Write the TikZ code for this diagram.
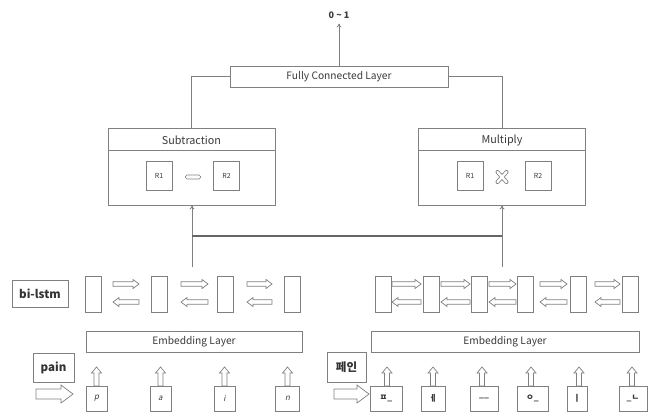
\documentclass[tikz,border=0pt]{standalone}
\usepackage{fontspec}
\setmainfont{Noto Sans CJK KR}
\newfontfamily\slfont{Noto Sans CJK KR}[FakeSlant=0.2]
\usetikzlibrary{calc,arrows.meta}
\definecolor{ln}{HTML}{808080}
\definecolor{dk}{HTML}{666666}
\definecolor{tx}{HTML}{3A3A3A}
\tikzset{
  box/.style={draw=ln, line width=0.8pt, inner sep=0pt, text=tx, fill=white},
  txt/.style={text=tx, inner sep=0pt},
  layer/.style={box, font=\fontsize{10.2}{11}\selectfont},
  lbl/.style={box, font=\bfseries\fontsize{11.5}{12}\selectfont, text=black!80},
  rbox/.style={box, minimum width=26pt, minimum height=29pt, font=\fontsize{7}{8}\selectfont},
  cell/.style={box, minimum width=16pt, minimum height=36pt},
  cbox/.style={box, minimum height=25pt, font=\fontsize{8}{9}\selectfont},
  conn/.style={draw=ln, line width=0.8pt},
  blockarrow/.style={draw=ln, line width=0.7pt, line join=miter},
  tip/.style={-{To[length=4pt,width=5pt]}}
}
\newcommand{\RArr}[3]{%
 \draw[blockarrow] (#1,#3-2.2) -- (#2-6,#3-2.2) -- (#2-6,#3-4.5) -- (#2,#3) -- (#2-6,#3+4.5) -- (#2-6,#3+2.2) -- (#1,#3+2.2) -- cycle;}
\newcommand{\LArr}[3]{%
 \draw[blockarrow] (#2,#3-2.2) -- (#1+6,#3-2.2) -- (#1+6,#3-4.5) -- (#1,#3) -- (#1+6,#3+4.5) -- (#1+6,#3+2.2) -- (#2,#3+2.2) -- cycle;}
\newcommand{\UArr}[3]{%
 \draw[blockarrow] (#1-2.5,#3) -- (#1-2.5,#2+6) -- (#1-5,#2+6) -- (#1,#2) -- (#1+5,#2+6) -- (#1+2.5,#2+6) -- (#1+2.5,#3) -- cycle;}
\begin{document}
\begin{tikzpicture}[x=1pt, y=-1pt]
\useasboundingbox[fill=white] (0,0) rectangle (648,412);

% top
\node[txt, font=\bfseries\fontsize{9}{10}\selectfont] (out) at (339,15) {0 \textasciitilde{} 1};
\node[layer, minimum width=218pt, minimum height=21pt] (fc) at (339,76.5) {Fully Connected Layer};
\draw[conn, tip] (fc.north) -- ($(out.south)+(0,5)$);

% subtraction
\node[box, minimum width=167pt, minimum height=77pt] (sub) at (191.5,166.5) {};
\node[txt, font=\fontsize{10.8}{11}\selectfont] (subt) at (191.5,140) {Subtraction};
\draw[conn] ($(sub.north west)+(0,23)$) -- ($(sub.north east)+(0,23)$);
\node[rbox] (sr1) at (159,175.5) {R1};
\node[rbox] (sr2) at (226.5,175.5) {R2};
\draw[ln, line width=0.7pt, rounded corners=1.5pt] (185.5,175) rectangle (200.5,179);

% multiply
\node[box, minimum width=167pt, minimum height=77pt] (mul) at (502,166.5) {};
\node[txt, font=\fontsize{10.8}{11}\selectfont] (mult) at (502,140) {Multiply};
\draw[conn] ($(mul.north west)+(0,23)$) -- ($(mul.north east)+(0,23)$);
\node[rbox] (mr1) at (470,175.5) {R1};
\node[rbox] (mr2) at (538,175.5) {R2};
\draw[ln, line width=4pt, line cap=round] (497.5,172) -- (506.5,182) (506.5,172) -- (497.5,182);
\draw[white, line width=2.4pt, line cap=round] (497.5,172) -- (506.5,182) (506.5,172) -- (497.5,182);

\draw[conn] (fc.west) -| (sub.north);
\draw[conn] (fc.east) -| (mul.north);

% bus
\coordinate (bl) at (192,236);
\coordinate (br) at (502,236);
\coordinate (bld) at (192,267);
\coordinate (brd) at (502,267);
\draw[conn, tip] (bl) -- (bl |- sub.south);
\draw[conn, tip] (br) -- (br |- mul.south);
\draw[conn] (bl) -- (bld);
\draw[conn] (br) -- (brd);
\draw[draw=dk, line width=1.6pt] (bl) -- (br);

% bi-lstm
\node[lbl, minimum width=56pt, minimum height=27pt] (bil) at (40,293.5) {bi-lstm};
\node[cell] (l1) at (93,294) {};
\node[cell] (l2) at (159,294) {};
\node[cell] (l3) at (225.5,294) {};
\node[cell] (l4) at (292,294) {};
\RArr{113}{139}{284} \LArr{113}{139}{302}
\RArr{181}{208}{284} \LArr{181}{208}{302}
\RArr{247}{272}{284} \LArr{247}{272}{302}

\node[cell] (r1) at (383,294.5) {};
\node[cell] (r2) at (431.5,294.5) {};
\node[cell] (r3) at (479,294.5) {};
\node[cell] (r4) at (525,294.5) {};
\node[cell] (r5) at (578.5,294.5) {};
\node[cell] (r6) at (630,294.5) {};
\RArr{392}{421}{284} \LArr{392}{421}{302}
\RArr{441}{470}{284} \LArr{441}{470}{302}
\RArr{489}{516}{284} \LArr{489}{516}{302}
\RArr{540}{567}{284} \LArr{540}{567}{302}
\RArr{595}{620}{284} \LArr{595}{620}{302}

% embedding
\node[layer, minimum width=216pt, minimum height=21pt] (embl) at (194,341.5) {Embedding Layer};
\node[layer, minimum width=268pt, minimum height=21pt] (embr) at (505,341.5) {Embedding Layer};

% inputs left
\node[lbl, minimum width=41pt, minimum height=29pt] (pain) at (53.5,367.5) {pain};
\draw[blockarrow] (36,389) -- (61,389) -- (61,385) -- (73,394) -- (61,403) -- (61,399) -- (36,399) -- cycle;
\node[cbox, minimum width=21pt] (cp) at (96.5,398.5) {\slfont p};
\node[cbox, minimum width=21pt] (ca) at (160.5,398.5) {\slfont a};
\node[cbox, minimum width=21pt] (ci) at (224.5,398.5) {\slfont i};
\node[cbox, minimum width=24pt] (cn) at (287.5,398.5) {\slfont n};
\UArr{96.5}{367}{386} \UArr{160.5}{367}{386} \UArr{224.5}{367}{386} \UArr{287.5}{367}{386}

% inputs right
\node[lbl, minimum width=39pt, minimum height=30pt] (pein) at (346.5,367) {페인};
\draw[blockarrow] (334,389) -- (357,389) -- (357,385) -- (369,394) -- (357,403) -- (357,399) -- (334,399) -- cycle;
\node[cbox, minimum width=32pt, font=\bfseries\fontsize{8.5}{9}\selectfont] (k1) at (386,398.5) {ㅍ\_};
\node[cbox, minimum width=24pt, font=\bfseries\fontsize{8.5}{9}\selectfont] (k2) at (433,398.5) {ㅔ};
\node[cbox, minimum width=28pt, font=\bfseries\fontsize{8.5}{9}\selectfont] (k3) at (484,398.5) {\_\_};
\node[cbox, minimum width=31pt, font=\bfseries\fontsize{8.5}{9}\selectfont] (k4) at (532.5,398.5) {ㅇ\_};
\node[cbox, minimum width=20pt, font=\bfseries\fontsize{8.5}{9}\selectfont] (k5) at (577,398.5) {ㅣ};
\node[cbox, minimum width=28pt, font=\bfseries\fontsize{8.5}{9}\selectfont] (k6) at (633,398.5) {\_ㄴ};
\UArr{387}{367}{386} \UArr{433}{367}{386} \UArr{482}{367}{386} \UArr{531}{367}{386} \UArr{579}{367}{386} \UArr{632}{367}{386}
\end{tikzpicture}
\end{document}
